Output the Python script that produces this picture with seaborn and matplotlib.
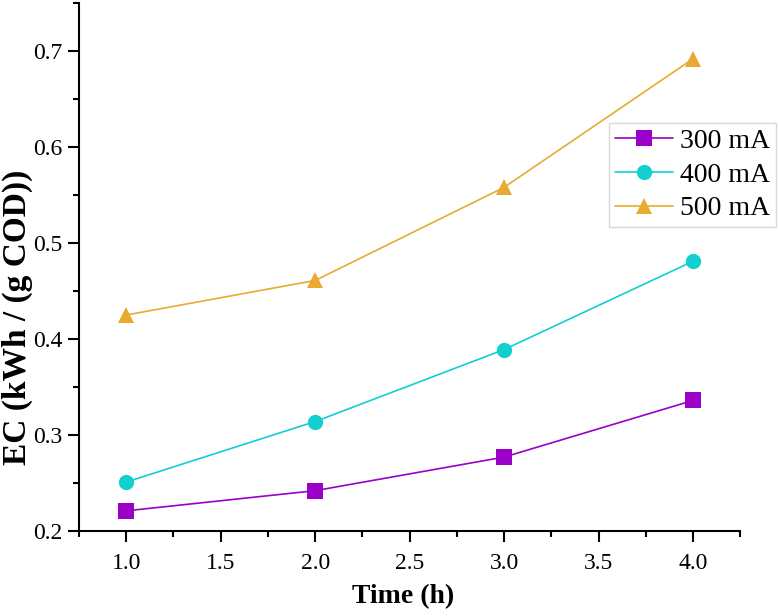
import pandas as pd
import matplotlib.pyplot as plt
from matplotlib.ticker import MultipleLocator
import seaborn as sns

time_h = [1.0, 2.0, 3.0, 4.0]
ec_300 = [0.221, 0.242, 0.277, 0.336]
ec_400 = [0.251, 0.314, 0.389, 0.481]
ec_500 = [0.425, 0.461, 0.558, 0.692]
series = ['300 mA', '400 mA', '500 mA']
colors = ['#9A00C8', '#12CFD0', '#E8AA30']

df = pd.DataFrame({
    'Time': time_h * 3,
    'EC': ec_300 + ec_400 + ec_500,
    'Current': [s for s in series for _ in time_h],
})

sns.set_style('ticks')
plt.rcParams['font.family'] = ['Liberation Serif', 'DejaVu Serif']
plt.rcParams['text.color'] = 'black'
plt.rcParams['axes.labelcolor'] = 'black'
plt.rcParams['xtick.color'] = 'black'
plt.rcParams['ytick.color'] = 'black'

fig = plt.figure(figsize=(7.78, 6.16), dpi=100)
ax = fig.add_axes([0.1015, 0.138, 0.85, 0.857])

sns.lineplot(data=df, x='Time', y='EC', hue='Current', style='Current',
             palette=colors, markers=['s', 'o', '^'], dashes=False,
             markersize=11, linewidth=1.2, markeredgewidth=0, ax=ax)

ax.set_xlim(0.75, 4.25)
ax.set_ylim(0.2, 0.75)
ax.xaxis.set_major_locator(MultipleLocator(0.5))
ax.xaxis.set_minor_locator(MultipleLocator(0.25))
ax.yaxis.set_major_locator(MultipleLocator(0.1))
ax.yaxis.set_minor_locator(MultipleLocator(0.05))
ax.xaxis.set_major_formatter(lambda v, p: f'{v:.1f}')
ax.yaxis.set_major_formatter(lambda v, p: f'{v:.1f}')
ax.tick_params(which='major', direction='out', length=8, width=1.5, labelsize=17, pad=4)
ax.tick_params(which='minor', direction='out', length=4, width=1.5)
ax.tick_params(axis='x', pad=8)

sns.despine(ax=ax)
for s in ['left', 'bottom']:
    ax.spines[s].set_linewidth(1.5)
    ax.spines[s].set_color('black')

ax.set_xlabel('Time (h)', fontsize=20, fontweight='bold')
ax.set_ylabel('EC (kWh / (g COD))', fontsize=24, fontweight='bold')
ax.xaxis.label.set_va('center')
ax.yaxis.label.set_va('center')
ax.xaxis.set_label_coords(0.49, -0.125)
ax.yaxis.set_label_coords(-0.093, 0.405)

leg = ax.legend(title=None, fontsize=20, loc='upper right', bbox_to_anchor=(1.054, 0.773),
                frameon=True, fancybox=False, handlelength=2.1, borderpad=0.2,
                labelspacing=0.3, handletextpad=0.25, borderaxespad=0)
leg.get_frame().set_edgecolor('#d0d0d0')
leg.get_frame().set_linewidth(1.0)

fig.savefig('out.png', dpi=100)
